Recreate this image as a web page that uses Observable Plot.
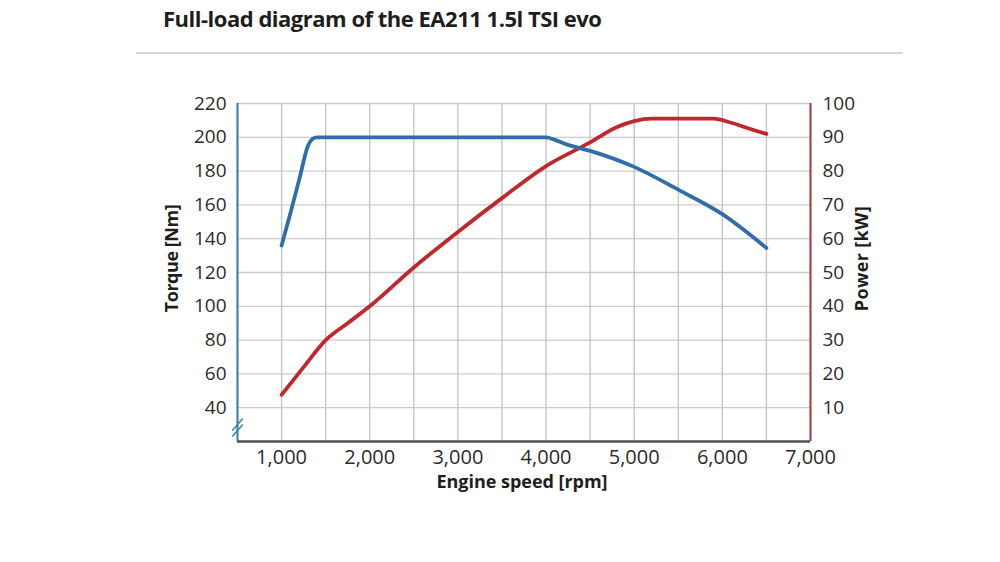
<!DOCTYPE html>
<html><head><meta charset="utf-8">
<script src="https://cdn.jsdelivr.net/npm/d3@7"></script>
<script src="https://cdn.jsdelivr.net/npm/@observablehq/plot@0.6"></script>
<style>
body{margin:0;background:#fff;}
#wrap{position:relative;width:1000px;height:562px;overflow:hidden;font-family:"Open Sans",sans-serif;background:#fff;}
#title{position:absolute;left:163px;top:7px;font-size:22px;line-height:22px;font-weight:700;color:#1e1e1e;white-space:nowrap;}
#sep{position:absolute;left:136px;top:52px;width:767px;height:2px;background:#d6d6d6;}
#chart{position:absolute;left:0;top:60px;}
</style></head>
<body><div id="wrap"><div id="title">Full-load diagram of the EA211 1.5l TSI evo</div><div id="sep"></div><div id="chart"></div></div>
<script>
// Torque curve (Nm) vs engine speed (rpm)
const torqueRpm = [1000, 1100, 1200, 1300, 1350, 1400, 2000, 3000, 4000, 4100, 4250, 4500, 5000, 5500, 6000, 6500];
const torqueNm  = [136, 155, 175, 195, 199, 200, 200, 200, 200, 198.5, 195.5, 192, 182.5, 169, 154.5, 134.5];
// Power curve (kW) vs engine speed (rpm)
const powerRpm = [1000, 1250, 1500, 1750, 2000, 2500, 3000, 3500, 4000, 4500, 4800, 5000, 5200, 5900, 6100, 6300, 6500];
const powerKW  = [13.8, 22, 30, 35, 40, 51.5, 62, 72, 81.5, 88.5, 93, 94.8, 95.5, 95.5, 94.3, 92.6, 91];
// Tick labels
const torqueTicks = [40, 60, 80, 100, 120, 140, 160, 180, 200, 220];
const powerTicks = [10, 20, 30, 40, 50, 60, 70, 80, 90, 100];
const rpmTicks = [1000, 2000, 3000, 4000, 5000, 6000, 7000];
const rpmGrid = [1000, 1500, 2000, 2500, 3000, 3500, 4000, 4500, 5000, 5500, 6000, 6500];
const rpmDomain = [500, 7000];
const torqueDomain = [20, 220];
// power axis shares the frame: 0 kW at 20 Nm, 100 kW at 220 Nm
const powerToTorque = p => torqueDomain[0] + p * (torqueDomain[1] - torqueDomain[0]) / 100;
const torqueToPower = t => (t - torqueDomain[0]) * 100 / (torqueDomain[1] - torqueDomain[0]);
// axis-break marks on the torque axis
const breakMarks = [26.5, 30];
// axis titles
const torqueTitle = "Torque [Nm]", powerTitle = "Power [kW]", speedTitle = "Engine speed [rpm]";

const blue = "#2f6ea6", red = "#c1272d";
const leftAxisColor = "#3d86a9", rightAxisColor = "#a8434a";
const tickFont = 19;

const torque = torqueRpm.map((rpm, i) => ({rpm, v: torqueNm[i]}));
const power = powerRpm.map((rpm, i) => ({rpm, v: powerKW[i]}));

const chart = Plot.plot({
  width: 1000, height: 502,
  marginLeft: 237, marginRight: 190, marginTop: 43, marginBottom: 121,
  x: {domain: rpmDomain},
  y: {domain: torqueDomain},
  style: {fontFamily: "'Open Sans', sans-serif", fontSize: tickFont + "px", color: "#2b2b2b", background: "transparent"},
  marks: [
    Plot.ruleY(torqueTicks, {stroke: "#cccccc", strokeWidth: 1.3, strokeOpacity: 1}),
    Plot.ruleX(rpmGrid, {y1: torqueDomain[0], y2: torqueDomain[1], stroke: "#c2c2c2", strokeWidth: 1.3, strokeOpacity: 1}),
    Plot.axisX(rpmTicks, {tickSize: 0, tickPadding: 8, tickFormat: d3.format(","), label: null, fontSize: 20}),
    Plot.axisY(torqueTicks, {anchor: "left", tickSize: 0, tickPadding: 11, label: null, fontSize: tickFont}),
    Plot.axisY(powerTicks.map(powerToTorque), {anchor: "right", tickSize: 0, tickPadding: 12, tickFormat: d => String(Math.round(torqueToPower(d))), label: null, fontSize: tickFont}),
    Plot.line(power, {x: "rpm", y: d => powerToTorque(d.v), stroke: red, strokeWidth: 3.8, curve: "monotone-x"}),
    Plot.line(torque, {x: "rpm", y: "v", stroke: blue, strokeWidth: 3.8, curve: "monotone-x"}),
    Plot.ruleX([rpmDomain[0]], {y1: torqueDomain[0], y2: torqueDomain[1], stroke: leftAxisColor, strokeWidth: 2.2}),
    Plot.ruleX([rpmDomain[1]], {y1: torqueDomain[0], y2: torqueDomain[1], stroke: rightAxisColor, strokeWidth: 2.2}),
    Plot.ruleY([torqueDomain[0]], {x1: rpmDomain[0], x2: rpmDomain[1], stroke: "#505050", strokeWidth: 2.6}),
    Plot.link(breakMarks, {x1: rpmDomain[0] - 60, x2: rpmDomain[0] + 60, y1: d => d - 3.6, y2: d => d + 3.6, stroke: leftAxisColor, strokeWidth: 1.6}),
    Plot.text([torqueTitle], {text: d => d, frameAnchor: "left", textAnchor: "middle", dx: -65, dy: -14, rotate: -90, fontWeight: "bold", fontSize: 18, fill: "#1e1e1e"}),
    Plot.text([powerTitle], {text: d => d, frameAnchor: "right", textAnchor: "middle", dx: 52, dy: -14, rotate: -90, fontWeight: "bold", fontSize: 18, fill: "#1e1e1e"}),
    Plot.text([speedTitle], {text: d => d, frameAnchor: "bottom", textAnchor: "middle", dx: -2, dy: 46, fontWeight: "bold", fontSize: 18, fill: "#1e1e1e"})
  ]
});
document.getElementById("chart").appendChild(chart);

// match axis-title lengths to the reference via letter spacing
const targets = {[torqueTitle]: 108, [powerTitle]: 105, [speedTitle]: 171};
chart.querySelectorAll("text").forEach(el => {
  const target = targets[el.textContent];
  if (target) {
    const len = el.getComputedTextLength();
    el.style.letterSpacing = ((target - len) / (el.textContent.length - 1)) + "px";
  }
});

// fit title width to reference
const t = document.getElementById("title");
const w = t.getBoundingClientRect().width;
const n = t.textContent.length;
t.style.letterSpacing = ((439 - w) / (n - 1)) + "px";
</script>
</body></html>
